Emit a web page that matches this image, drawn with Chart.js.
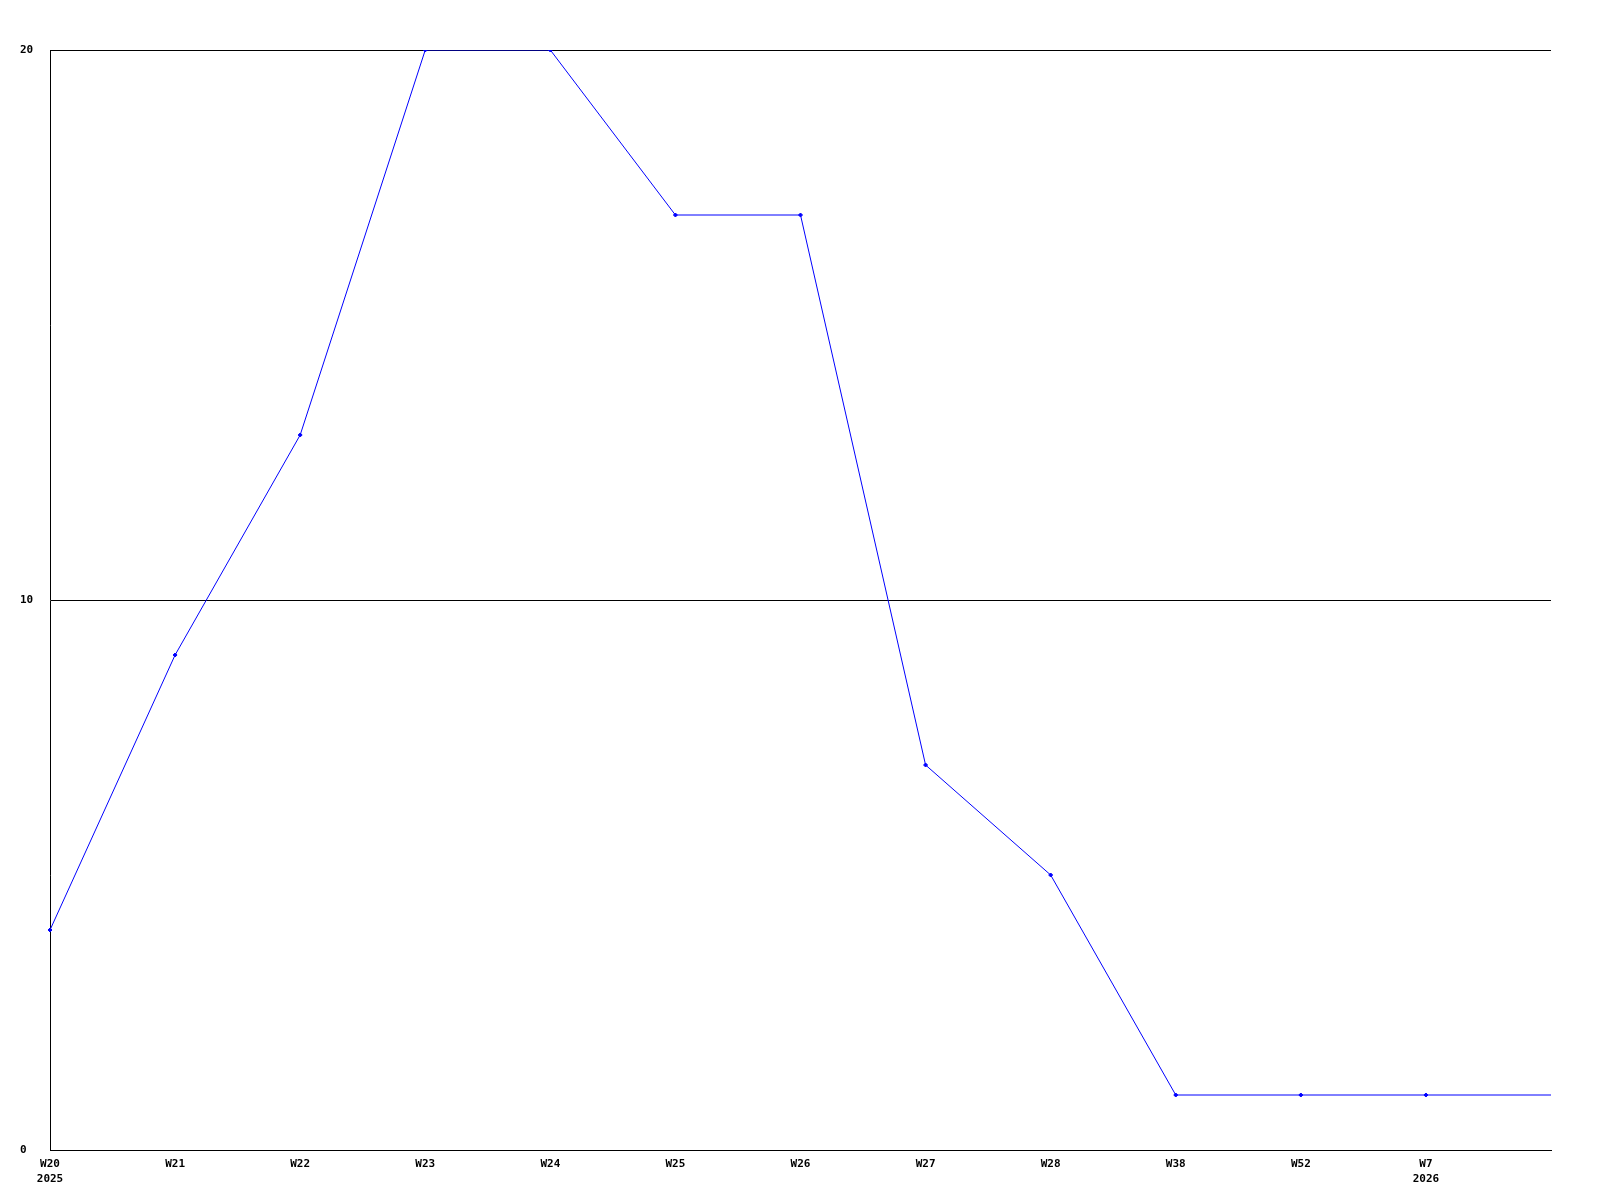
<!DOCTYPE html>
<html>
<head>
<meta charset="utf-8">
<style>
  body { margin: 0; background: #fff; }
  canvas { display: block; }
</style>
<script src="https://cdn.jsdelivr.net/npm/chart.js@4/dist/chart.umd.min.js"></script>
</head>
<body>
<canvas id="chart" width="1600" height="1200"></canvas>
<script>
// week labels, year shown under first week of each year
var weeks = ['W20', 'W21', 'W22', 'W23', 'W24', 'W25', 'W26', 'W27', 'W28', 'W38', 'W52', 'W7', ''];
var years = ['2025', '', '', '', '', '', '', '', '', '', '', '2026', ''];
var values = [4, 9, 13, 20, 20, 17, 17, 7, 5, 1, 1, 1, 1];

var labels = [];
for (let i = 0; i < weeks.length; i++) {
    labels.push(years[i] ? [weeks[i], years[i]] : weeks[i]);
}

var tickFont = { family: 'DejaVu Sans Mono', size: 11, weight: 'bold', lineHeight: 1.35 };

var ctx = document.getElementById('chart').getContext('2d');
var chart = new Chart(ctx, {
    type: 'line',
    data: {
        labels: labels,
        datasets: [{
            borderColor: 'rgb(0, 0, 255)',
            backgroundColor: 'rgb(0, 0, 255)',
            borderWidth: 1,
            pointStyle: 'rectRot',
            pointRadius: values.map(function(v, i) { return weeks[i] ? 2 : 0; }),
            pointBorderWidth: 1,
            fill: false,
            tension: 0,
            data: values
        }]
    },
    options: {
        responsive: false,
        animation: false,
        layout: { padding: { top: 50, right: 49, left: 20, bottom: 0 } },
        plugins: {
            legend: { display: false },
            tooltip: { enabled: false }
        },
        scales: {
            x: {
                offset: false,
                grid: { display: false, drawTicks: false },
                border: { display: true, color: '#000', width: 1 },
                ticks: {
                    color: '#000',
                    font: tickFont,
                    padding: 7,
                    maxRotation: 0,
                    autoSkip: false
                },
                afterFit: function(scale) { scale.height = 50; }
            },
            y: {
                min: 0,
                max: 20,
                grid: { color: '#000', lineWidth: 1, drawTicks: false },
                border: { display: true, color: '#000', width: 1 },
                ticks: {
                    stepSize: 10,
                    color: '#000',
                    font: tickFont,
                    crossAlign: 'far'
                },
                afterFit: function(scale) { scale.width = 30; }
            }
        }
    }
});
</script>
</body>
</html>
